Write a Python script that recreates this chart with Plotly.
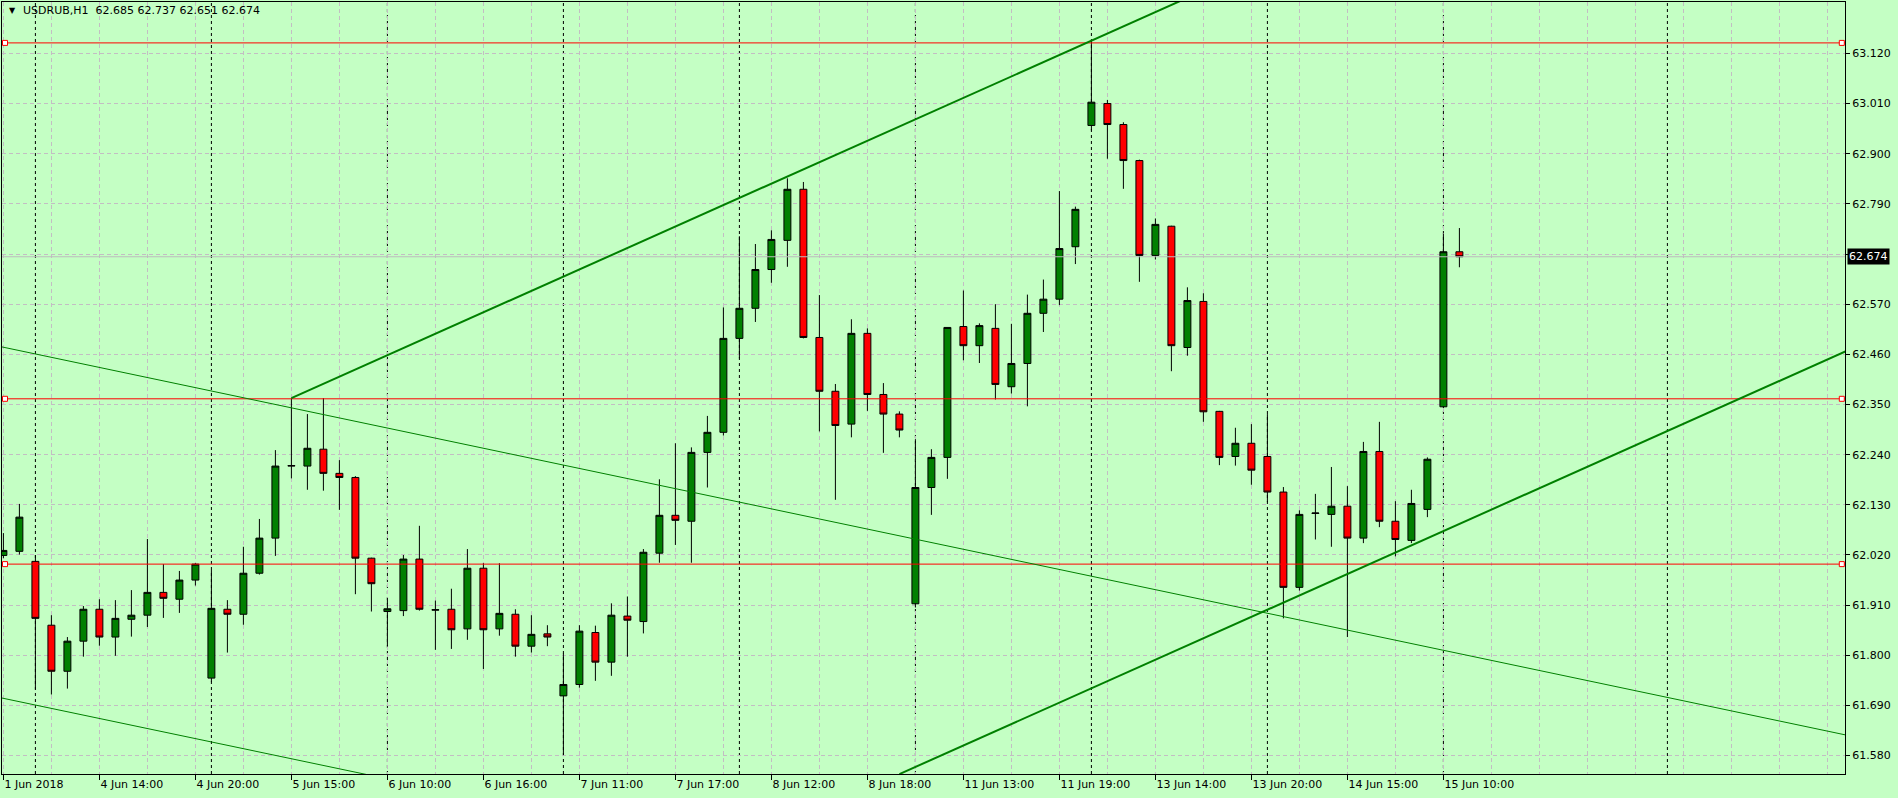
import plotly.graph_objects as go

# ---- data (USDRUB, H1) ----
symbol = "USDRUB,H1"

bar_open = [62.019, 62.028, 62.006, 61.866, 61.765, 61.831, 61.901, 61.840, 61.879, 61.888,
            61.938, 61.923, 61.965, 61.750, 61.901, 61.890, 61.980, 62.057, 62.215, 62.215,
            62.252, 62.199, 62.190, 62.013, 61.896, 61.898, 62.011, 61.899, 61.901, 61.858,
            61.991, 61.858, 61.890, 61.820, 61.847, 61.711, 61.736, 61.850, 61.785, 61.886,
            61.874, 62.024, 62.107, 62.094, 62.245, 62.289, 62.495, 62.561, 62.646, 62.710,
            62.822, 62.497, 62.379, 62.307, 62.506, 62.372, 62.329, 61.913, 62.168, 62.234,
            62.521, 62.479, 62.517, 62.389, 62.440, 62.550, 62.581, 62.696, 62.962, 63.010,
            62.964, 62.885, 62.677, 62.741, 62.475, 62.576, 62.335, 62.236, 62.265, 62.236,
            62.158, 61.949, 62.111, 62.109, 62.127, 62.057, 62.247, 62.094, 62.052, 62.120,
            62.345, 62.685]
bar_high = [62.068, 62.132, 62.020, 61.888, 61.840, 61.908, 61.923, 61.921, 61.943, 62.055,
            62.000, 61.985, 62.002, 61.987, 61.921, 62.038, 62.099, 62.250, 62.364, 62.329,
            62.364, 62.228, 62.193, 62.014, 61.926, 62.020, 62.084, 61.920, 61.946, 62.033,
            62.002, 62.002, 61.901, 61.888, 61.866, 61.804, 61.866, 61.865, 61.914, 61.929,
            62.033, 62.186, 62.265, 62.256, 62.325, 62.563, 62.719, 62.702, 62.732, 62.846,
            62.838, 62.590, 62.395, 62.537, 62.517, 62.397, 62.335, 62.274, 62.252, 62.519,
            62.600, 62.528, 62.570, 62.527, 62.591, 62.624, 62.818, 62.784, 63.148, 63.018,
            62.969, 62.887, 62.758, 62.742, 62.607, 62.594, 62.336, 62.299, 62.307, 62.329,
            62.169, 62.118, 62.154, 62.213, 62.171, 62.268, 62.312, 62.138, 62.163, 62.234,
            62.725, 62.737]
bar_low = [62.013, 62.021, 61.725, 61.714, 61.727, 61.797, 61.821, 61.799, 61.841, 61.862,
           61.882, 61.893, 61.953, 61.742, 61.806, 61.867, 61.977, 62.018, 62.188, 62.163,
           62.161, 62.119, 61.934, 61.896, 61.819, 61.886, 61.898, 61.812, 61.814, 61.834,
           61.770, 61.843, 61.797, 61.806, 61.820, 61.581, 61.729, 61.744, 61.755, 61.797,
           61.848, 62.003, 62.042, 62.003, 62.168, 62.282, 62.451, 62.531, 62.617, 62.652,
           62.495, 62.291, 62.141, 62.278, 62.336, 62.244, 62.278, 61.905, 62.108, 62.187,
           62.447, 62.441, 62.361, 62.374, 62.346, 62.509, 62.568, 62.658, 62.951, 62.889,
           62.823, 62.619, 62.668, 62.423, 62.457, 62.312, 62.217, 62.216, 62.174, 62.136,
           61.881, 61.942, 62.054, 62.038, 61.840, 62.046, 62.081, 62.017, 62.046, 62.103,
           62.344, 62.651]
bar_close = [62.030, 62.103, 61.881, 61.765, 61.831, 61.901, 61.840, 61.881, 61.888, 61.938,
             61.925, 61.965, 62.000, 61.903, 61.890, 61.980, 62.057, 62.215, 62.216, 62.254,
             62.199, 62.190, 62.013, 61.957, 61.902, 62.011, 61.901, 61.900, 61.856, 61.991,
             61.856, 61.892, 61.820, 61.846, 61.840, 61.736, 61.853, 61.785, 61.888, 61.877,
             62.026, 62.107, 62.096, 62.245, 62.289, 62.495, 62.561, 62.646, 62.712, 62.822,
             62.497, 62.379, 62.304, 62.506, 62.372, 62.329, 62.294, 62.168, 62.234, 62.519,
             62.479, 62.523, 62.394, 62.440, 62.550, 62.581, 62.692, 62.778, 63.013, 62.964,
             62.885, 62.677, 62.745, 62.479, 62.578, 62.334, 62.234, 62.265, 62.206, 62.158,
             61.949, 62.109, 62.112, 62.127, 62.057, 62.247, 62.094, 62.054, 62.133, 62.230,
             62.685, 62.674]
bar_idx = list(range(len(bar_open)))

time_tick_idx = [0, 6, 12, 18, 24, 30, 36, 42, 48, 54, 60, 66, 72, 78, 84, 90]
time_tick_text = ["1 Jun 2018", "4 Jun 14:00", "4 Jun 20:00", "5 Jun 15:00", "6 Jun 10:00",
                  "6 Jun 16:00", "7 Jun 11:00", "7 Jun 17:00", "8 Jun 12:00", "8 Jun 18:00",
                  "11 Jun 13:00", "11 Jun 19:00", "13 Jun 14:00", "13 Jun 20:00",
                  "14 Jun 15:00", "15 Jun 10:00"]
day_start_idx = [2, 13, 24, 35, 46, 57, 68, 79, 90, 104]

price_ticks = [61.580, 61.690, 61.800, 61.910, 62.020, 62.130, 62.240, 62.350,
               62.460, 62.570, 62.680, 62.790, 62.900, 63.010, 63.120]
price_tick_text = ["61.580", "61.690", "61.800", "61.910", "62.020", "62.130", "62.240",
                   "62.350", "62.460", "62.570", "", "62.790", "62.900", "63.010", "63.120"]

level_prices = [63.143, 62.3625, 62.000]
bid_price = 62.674

# trend lines: (bar index, price) end points
channel_up_x = [18, 68, 80]
channel_up_y = [62.364, 63.148, 63.336]
channel_dn_x = [56, 116]
channel_dn_y = [61.5395, 62.480]
thin_top_x = [-1, 116]
thin_top_y = [62.483, 61.619]
thin_bot_x = [-1, 24]
thin_bot_y = [61.713, 61.529]

BG = "#C4FFC4"
GRID = "#C3BDC3"
FONT = "DejaVu Sans"
X_RANGE = [-0.0875, 115.1]
Y_RANGE = [61.5397, 63.2327]

fig = go.Figure()

# horizontal levels (red) with small square handles at both ends
for lvl in level_prices:
    fig.add_trace(go.Scatter(x=X_RANGE, y=[lvl, lvl], mode="lines",
                             line=dict(color="#FF0000", width=1), hoverinfo="skip"))
    fig.add_trace(go.Scatter(x=[0.1, 114.9], y=[lvl, lvl], mode="markers",
                             marker=dict(symbol="square", size=5, color="white",
                                         line=dict(color="#FF0000", width=1)),
                             hoverinfo="skip"))

# bid line
fig.add_trace(go.Scatter(x=X_RANGE, y=[bid_price, bid_price], mode="lines",
                         line=dict(color="#BDBDBD", width=1), hoverinfo="skip"))

# trend lines
fig.add_trace(go.Scatter(x=thin_top_x, y=thin_top_y, mode="lines",
                         line=dict(color="#008000", width=1), hoverinfo="skip"))
fig.add_trace(go.Scatter(x=thin_bot_x, y=thin_bot_y, mode="lines",
                         line=dict(color="#008000", width=1), hoverinfo="skip"))
fig.add_trace(go.Scatter(x=channel_up_x, y=channel_up_y, mode="lines",
                         line=dict(color="#008000", width=2), hoverinfo="skip"))
fig.add_trace(go.Scatter(x=channel_dn_x, y=channel_dn_y, mode="lines",
                         line=dict(color="#008000", width=2), hoverinfo="skip"))

# candles
fig.add_trace(go.Candlestick(
    x=bar_idx, open=bar_open, high=bar_high, low=bar_low, close=bar_close,
    increasing=dict(line=dict(color="black", width=1), fillcolor="#008000"),
    decreasing=dict(line=dict(color="black", width=1), fillcolor="#FF0000"),
    whiskerwidth=0,
))

# day separators
for d in day_start_idx:
    fig.add_shape(type="line", x0=d, x1=d, y0=0, y1=1, xref="x", yref="paper",
                  line=dict(color="black", width=1, dash="3px,3px"), layer="below")

# header
fig.add_annotation(text="▼", x=0.0027, y=0.989, xref="paper", yref="paper",
                   xanchor="left", yanchor="middle", showarrow=False,
                   font=dict(family=FONT, size=8, color="black"))
fig.add_annotation(text=f"{symbol}  {bar_open[-1]:.3f} {bar_high[-1]:.3f} "
                        f"{bar_low[-1]:.3f} {bar_close[-1]:.3f}",
                   x=0.0105, y=0.9885, xref="paper", yref="paper",
                   xanchor="left", yanchor="middle", showarrow=False,
                   font=dict(family=FONT, size=11, color="black"))

# bid price tag on the axis
fig.add_annotation(text=f"{bid_price:.3f}", x=1, y=bid_price, xref="paper", yref="y",
                   xanchor="left", yanchor="middle", xshift=2, showarrow=False,
                   bgcolor="black", borderpad=1,
                   font=dict(family=FONT, size=11, color="white"))

grid_style = dict(gridcolor=GRID, griddash="4px,3px", gridwidth=1)

fig.update_layout(
    width=1898, height=798, autosize=False,
    margin=dict(l=2, r=53, t=2, b=24),
    paper_bgcolor=BG, plot_bgcolor=BG,
    showlegend=False,
    boxgap=0.38,
    font=dict(family=FONT, size=11, color="black"),
    xaxis=dict(
        range=X_RANGE, rangeslider=dict(visible=False), automargin=False,
        tickmode="array", tickvals=time_tick_idx, ticktext=time_tick_text,
        ticks="outside", ticklen=5, tickcolor="black",
        ticklabelposition="outside right",
        showline=True, linecolor="black", linewidth=1, mirror=True,
        showgrid=True, zeroline=False,
        minor=dict(tickmode="linear", tick0=0, dtick=3, showgrid=True, ticks="", **grid_style),
        **grid_style,
    ),
    yaxis=dict(
        range=Y_RANGE, side="right", automargin=False,
        tickmode="array", tickvals=price_ticks, ticktext=price_tick_text,
        ticks="outside", ticklen=4, tickcolor="black",
        showline=True, linecolor="black", linewidth=1, mirror=True,
        showgrid=True, zeroline=False,
        **grid_style,
    ),
)

# the page body has a default 8px margin; drop it so the chart fills the window
fig.write_html("out.html",
               config={"displayModeBar": False},
               post_script=f"document.body.style.margin='0';"
                           f"document.body.style.background='{BG}';")
